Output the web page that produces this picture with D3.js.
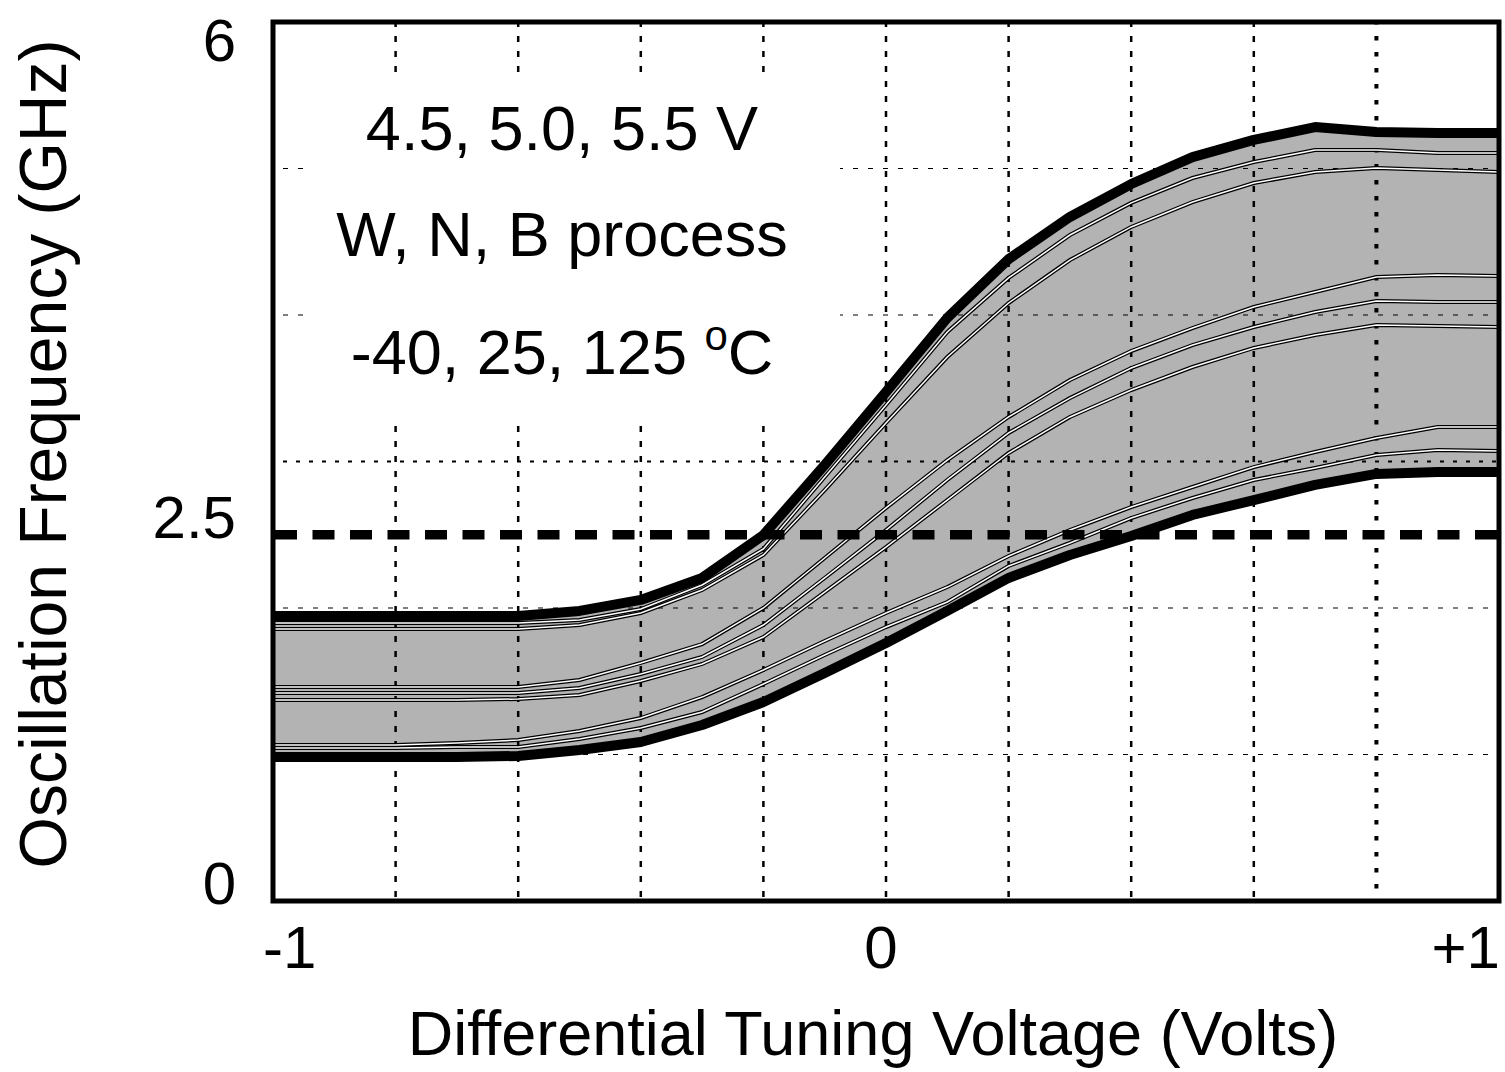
<!DOCTYPE html>
<html>
<head>
<meta charset="utf-8">
<script src="https://cdn.jsdelivr.net/npm/d3@7"></script>
<style>
	body {margin: 0; background: #fff;}
	svg {display: block;}
	text {font-family: "Liberation Sans", Arial, sans-serif; fill: #000;}
</style>
</head>
<body>
<svg width="1505" height="1072"></svg>
<script>
// tuning voltage samples (V)
var volts = [-1, -0.9, -0.8, -0.7, -0.6, -0.5, -0.4, -0.3, -0.2, -0.1, 0,
	0.1, 0.2, 0.3, 0.4, 0.5, 0.6, 0.7, 0.8, 0.9, 1];

// envelope of all corners (GHz)
var upperEdge = [1.945, 1.945, 1.945, 1.945, 1.945, 1.98, 2.055, 2.205, 2.498, 2.976, 3.474,
	3.98, 4.382, 4.669, 4.894, 5.078, 5.195, 5.283, 5.249, 5.242, 5.242];
var lowerEdge = [0.983, 0.983, 0.983, 0.983, 0.99, 1.031, 1.085, 1.201, 1.358, 1.556, 1.761,
	1.98, 2.205, 2.362, 2.491, 2.635, 2.737, 2.84, 2.915, 2.928, 2.928];

// individual corner curves inside the band (GHz)
var fastA = [1.898, 1.898, 1.898, 1.898, 1.898, 1.918, 1.993, 2.157, 2.403, 2.894, 3.386,
	3.884, 4.253, 4.546, 4.765, 4.935, 5.044, 5.126, 5.126, 5.106, 5.106];
var fastB = [1.857, 1.857, 1.857, 1.857, 1.857, 1.884, 1.966, 2.123, 2.362, 2.805, 3.263,
	3.713, 4.082, 4.375, 4.601, 4.771, 4.901, 4.976, 5.003, 4.99, 4.976];
var nomA = [1.461, 1.461, 1.461, 1.461, 1.461, 1.509, 1.625, 1.754, 2.0, 2.341, 2.683,
	3.01, 3.304, 3.556, 3.754, 3.911, 4.055, 4.157, 4.259, 4.273, 4.266];
var nomB = [1.42, 1.42, 1.42, 1.42, 1.42, 1.454, 1.549, 1.666, 1.884, 2.205, 2.532,
	2.874, 3.195, 3.433, 3.638, 3.795, 3.918, 4.02, 4.096, 4.089, 4.089];
var nomC = [1.372, 1.372, 1.372, 1.372, 1.379, 1.406, 1.502, 1.618, 1.802, 2.109, 2.416,
	2.737, 3.058, 3.304, 3.488, 3.645, 3.775, 3.863, 3.932, 3.925, 3.918];
var slowA = [1.065, 1.065, 1.065, 1.078, 1.099, 1.16, 1.249, 1.392, 1.577, 1.775, 1.966,
	2.143, 2.355, 2.532, 2.689, 2.826, 2.962, 3.065, 3.16, 3.235, 3.235];
var slowB = [1.044, 1.044, 1.044, 1.051, 1.051, 1.106, 1.181, 1.29, 1.481, 1.679, 1.87,
	2.041, 2.287, 2.444, 2.614, 2.751, 2.874, 2.956, 3.044, 3.078, 3.072];

var specLevel = 2.5;

var xTicks = [-1, 0, 1];
var xTickLabels = ["-1", "0", "+1"];
var yTicks = [0, 2.5, 6];
var yTickLabels = ["0", "2.5", "6"];
var xGrid = [-0.8, -0.6, -0.4, -0.2, 0, 0.2, 0.4, 0.6, 0.8];
var yGrid = [1, 2, 3, 4, 5];

var noteLines = ["4.5, 5.0, 5.5 V", "W, N, B process", "-40, 25, 125 "];

function drawPlot() {
	var svg = d3.select("svg");
	var left = 273, right = 1499, top = 22, bottom = 901;

	var x = d3.scaleLinear().domain([-1, 1]).range([left, right]);
	var y = d3.scaleLinear().domain([0, 6]).range([bottom, top]);

	svg.append("rect").attr("width", 1505).attr("height", 1072).attr("fill", "#fff");

	// grey band between the envelopes
	var band = d3.area()
		.x((d, i) => x(volts[i]))
		.y0((d, i) => y(lowerEdge[i]))
		.y1(d => y(d));
	svg.append("path").datum(upperEdge)
		.attr("d", band)
		.attr("fill", "#b3b3b3");

	// grid
	svg.append("g").selectAll("line").data(xGrid)
		.enter().append("line")
		.attr("x1", d => x(d)).attr("x2", d => x(d))
		.attr("y1", top).attr("y2", bottom)
		.attr("stroke", "#000")
		.attr("stroke-width", d => d == 0.8 ? 4 : 2.5)
		.attr("stroke-dasharray", d => d == 0.8 ? "4.5,11.5" : "6,9")
		.attr("stroke-dashoffset", -14);
	svg.append("g").selectAll("line").data(yGrid)
		.enter().append("line")
		.attr("x1", left).attr("x2", right)
		.attr("y1", d => y(d)).attr("y2", d => y(d))
		.attr("stroke", "#000")
		.attr("stroke-width", d => d == 3 ? 2.2 : 1.2)
		.attr("stroke-dasharray", d => d == 3 ? "4,9" : "5,10")
		.attr("stroke-dashoffset", -10);

	// white panel behind the notes
	svg.append("rect")
		.attr("x", 310).attr("y", 76)
		.attr("width", 530).attr("height", 342)
		.attr("fill", "#fff");

	// corner curves, drawn as double lines
	var line = d3.line()
		.x((d, i) => x(volts[i]))
		.y(d => y(d));
	var corners = [fastA, fastB, nomA, nomB, nomC, slowA, slowB];
	var cg = svg.append("g").attr("fill", "none");
	cg.selectAll("path.outer").data(corners)
		.enter().append("path")
		.attr("class", "outer")
		.attr("d", line)
		.attr("stroke", "#000")
		.attr("stroke-width", 4);
	cg.selectAll("path.inner").data(corners)
		.enter().append("path")
		.attr("class", "inner")
		.attr("d", line)
		.attr("stroke", "#fff")
		.attr("stroke-width", 1.5);

	// envelopes
	svg.append("g").attr("fill", "none").selectAll("path").data([upperEdge, lowerEdge])
		.enter().append("path")
		.attr("d", line)
		.attr("stroke", "#000")
		.attr("stroke-width", 10)
		.attr("stroke-linejoin", "round");

	// 2.5 GHz reference
	svg.append("line")
		.attr("x1", x(-1)).attr("x2", x(1))
		.attr("y1", y(specLevel)).attr("y2", y(specLevel))
		.attr("stroke", "#000")
		.attr("stroke-width", 9.5)
		.attr("stroke-dasharray", "22,15.5")
		.attr("stroke-dashoffset", 35.5);

	// frame
	svg.append("rect")
		.attr("x", left).attr("y", top)
		.attr("width", right - left).attr("height", bottom - top)
		.attr("fill", "none")
		.attr("stroke", "#000")
		.attr("stroke-width", 5);

	// tick labels
	svg.append("g").selectAll("text").data(xTicks)
		.enter().append("text")
		.attr("x", d => d < 0 ? x(d) - 10 : d > 0 ? x(d) + 1 : x(d) - 5)
		.attr("y", 968)
		.attr("text-anchor", d => d < 0 ? "start" : d > 0 ? "end" : "middle")
		.attr("font-size", 60)
		.text((d, i) => xTickLabels[i]);
	svg.append("g").selectAll("text").data(yTicks)
		.enter().append("text")
		.attr("x", 236)
		.attr("y", d => y(d) + (d == 6 ? 18 : -18))
		.attr("dy", "0.35em")
		.attr("text-anchor", "end")
		.attr("font-size", 60)
		.text((d, i) => yTickLabels[i]);

	// axis titles
	svg.append("text")
		.attr("x", 873).attr("y", 1055)
		.attr("text-anchor", "middle")
		.attr("font-size", 63)
		.text("Differential Tuning Voltage (Volts)");
	svg.append("text")
		.attr("transform", "translate(66,454)rotate(-90)")
		.attr("text-anchor", "middle")
		.attr("font-size", 66)
		.text("Oscillation Frequency (GHz)");

	// operating conditions
	var notes = svg.append("g").attr("font-size", 63).attr("text-anchor", "middle");
	var baselines = [150, 256, 374];
	noteLines.forEach(function(t, i) {
		var el = notes.append("text").attr("x", 562).attr("y", baselines[i]);
		if (i < 2) {
			el.text(t);
		} else {
			el.append("tspan").text(t);
			el.append("tspan").attr("dy", -24).attr("font-size", 42).text("o");
			el.append("tspan").attr("dy", 24).text("C");
		}
	});
}
drawPlot();
</script>
</body>
</html>
